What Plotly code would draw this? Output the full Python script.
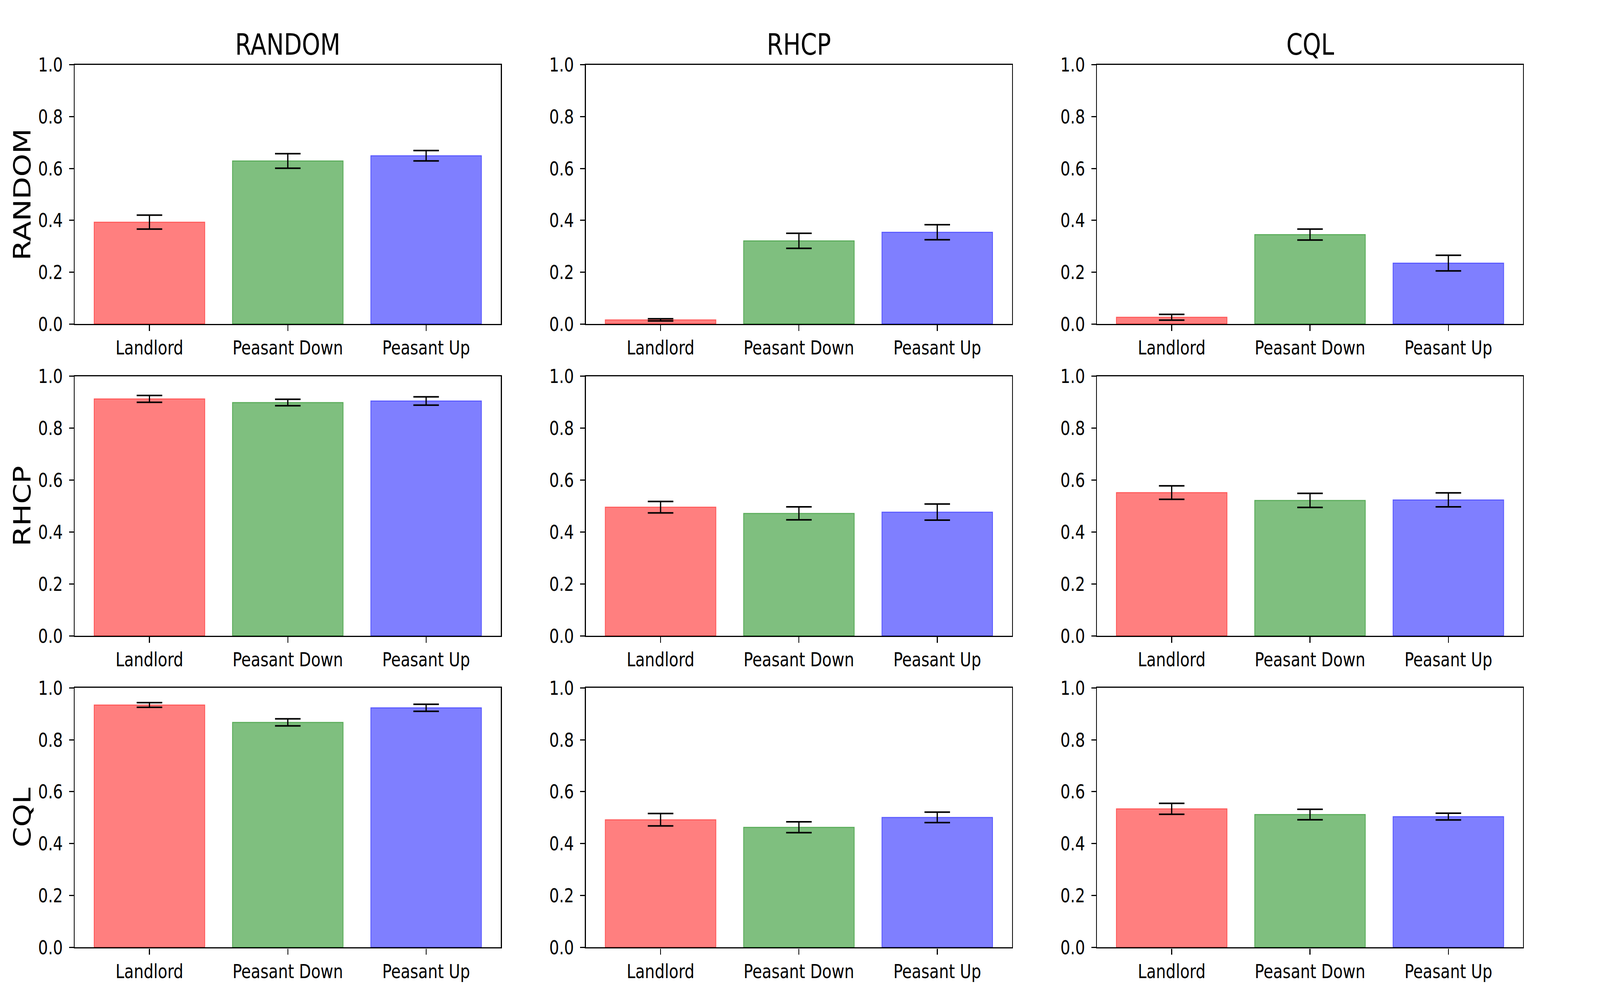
import plotly.graph_objects as go

# ---------------- data ----------------
categories = ["Landlord", "Peasant Down", "Peasant Up"]
col_titles = ["RANDOM", "RHCP", "CQL"]
row_titles = ["RANDOM", "RHCP", "CQL"]
y_ticks = [0.0, 0.2, 0.4, 0.6, 0.8, 1.0]

# row RANDOM
mean_random_random = [0.393, 0.629, 0.649]
err_random_random = [0.027, 0.028, 0.020]
mean_random_rhcp = [0.016, 0.321, 0.354]
err_random_rhcp = [0.004, 0.029, 0.029]
mean_random_cql = [0.026, 0.345, 0.235]
err_random_cql = [0.011, 0.021, 0.030]
# row RHCP
mean_rhcp_random = [0.913, 0.899, 0.905]
err_rhcp_random = [0.013, 0.0125, 0.016]
mean_rhcp_rhcp = [0.496, 0.472, 0.477]
err_rhcp_rhcp = [0.022, 0.025, 0.031]
mean_rhcp_cql = [0.552, 0.522, 0.524]
err_rhcp_cql = [0.026, 0.027, 0.027]
# row CQL
mean_cql_random = [0.934, 0.867, 0.923]
err_cql_random = [0.009, 0.0135, 0.0135]
mean_cql_rhcp = [0.492, 0.463, 0.501]
err_cql_rhcp = [0.024, 0.021, 0.020]
mean_cql_cql = [0.534, 0.512, 0.504]
err_cql_cql = [0.021, 0.020, 0.013]

panels = [
    [(mean_random_random, err_random_random), (mean_random_rhcp, err_random_rhcp), (mean_random_cql, err_random_cql)],
    [(mean_rhcp_random, err_rhcp_random), (mean_rhcp_rhcp, err_rhcp_rhcp), (mean_rhcp_cql, err_rhcp_cql)],
    [(mean_cql_random, err_cql_random), (mean_cql_rhcp, err_cql_rhcp), (mean_cql_cql, err_cql_cql)],
]

# ---------------- style ----------------
W, H = 5137, 2559
FONT = "DejaVu Sans"
fill_colors = ["rgba(255,0,0,0.5)", "rgba(0,128,0,0.5)", "rgba(0,0,255,0.5)"]
edge_colors = ["rgba(255,0,0,0.5)", "rgba(0,128,0,0.5)", "rgba(0,0,255,0.5)"]

x_domains = [[240 / W, 1608 / W], [1881 / W, 3249 / W], [3522 / W, 4890 / W]]
y_domains = [[1 - 819 / H, 1 - 140 / H], [1 - 1636 / H, 1 - 956 / H], [1 - 2452 / H, 1 - 1772 / H]]

fig = go.Figure()
layout = dict(
    width=W, height=H,
    margin=dict(l=0, r=0, t=0, b=0),
    paper_bgcolor="white", plot_bgcolor="white",
    showlegend=False,
    font=dict(family=FONT, color="black", size=50),
    annotations=[],
)

idx = 0
for r in range(3):
    for c in range(3):
        idx += 1
        xa = "x" if idx == 1 else f"x{idx}"
        ya = "y" if idx == 1 else f"y{idx}"
        means, errs = panels[r][c]
        fig.add_trace(go.Bar(
            x=list(range(len(categories))), y=means,
            width=0.8,
            marker=dict(color=fill_colors, line=dict(color=edge_colors, width=2.5)),
            error_y=dict(type="data", array=errs, visible=True, color="black", thickness=4, width=41),
            xaxis=xa, yaxis=ya,
        ))
        axis_common = dict(
            showline=True, linecolor="black", linewidth=3.3, mirror=True,
            ticks="outside", ticklen=15, tickwidth=3.3, tickcolor="black",
            showgrid=False, zeroline=False,
            tickfont=dict(family=FONT, size=50, color="black"),
        )
        layout["xaxis" if idx == 1 else f"xaxis{idx}"] = dict(
            domain=x_domains[c], anchor=ya, range=[-0.54, 2.54],
            tickmode="array", tickvals=list(range(len(categories))), ticktext=categories,
            **axis_common,
        )
        layout["yaxis" if idx == 1 else f"yaxis{idx}"] = dict(
            domain=y_domains[r], anchor=xa, range=[0, 1.0],
            tickmode="array", tickvals=y_ticks, ticktext=[f"{v:.1f}" for v in y_ticks],
            ticklabelstandoff=10,
            **axis_common,
        )

for c in range(3):
    layout["annotations"].append(dict(
        text=col_titles[c], xref="paper", yref="paper",
        x=(x_domains[c][0] + x_domains[c][1]) / 2, y=y_domains[0][1],
        xanchor="center", yanchor="bottom", yshift=6, showarrow=False,
        font=dict(family=FONT, size=75, color="black"),
    ))
for r in range(3):
    layout["annotations"].append(dict(
        text=row_titles[r], xref="paper", yref="paper",
        x=72 / W, y=(y_domains[r][0] + y_domains[r][1]) / 2,
        xanchor="center", yanchor="middle", textangle=-90, showarrow=False,
        font=dict(family=FONT, size=75, color="black"),
    ))

fig.update_layout(**layout)

# map the 5137x2559 figure onto whatever viewport the browser actually provides
# (identity when the viewport really is 5137x2559), with no scrolling or margins
fit_js = (
    "var de=document.documentElement, bd=document.body;"
    "de.style.margin='0'; bd.style.margin='0';"
    "de.style.overflow='hidden'; bd.style.overflow='hidden';"
    "var gd=document.getElementById('{plot_id}');"
    "var sx=window.innerWidth/%d, sy=window.innerHeight/%d;"
    "gd.style.transformOrigin='0 0';"
    "gd.style.transform='scale('+sx+','+sy+')';" % (W, H)
)
fig.write_html("out.html", post_script=fit_js, config={"displayModeBar": False})
